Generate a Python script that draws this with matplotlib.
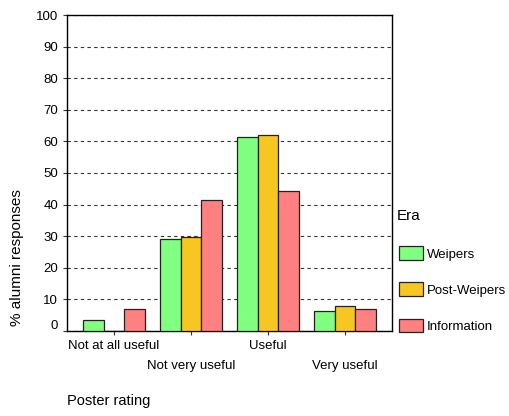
import matplotlib
matplotlib.use("Agg")
import matplotlib.pyplot as plt
import matplotlib.transforms as mtransforms
import numpy as np

plt.rcParams["font.family"] = ["Liberation Sans", "DejaVu Sans"]

categories = ["Not at all useful", "Not very useful", "Useful", "Very useful"]
series = ["Weipers", "Post-Weipers", "Information"]
weipers = [3.4, 29.0, 61.3, 6.3]
post_weipers = [0.0, 29.8, 61.9, 7.8]
information = [7.0, 41.3, 44.3, 7.0]
colors = ["#80ff80", "#f8c620", "#ff8080"]

fig = plt.figure(figsize=(5.09, 4.16), dpi=100)
ax = fig.add_axes([67 / 509, 1 - 331 / 416, 325 / 509, 316 / 416])

x = np.arange(len(categories))
width = 0.265
for i, (vals, name, col) in enumerate(zip([weipers, post_weipers, information], series, colors)):
    ax.bar(x + (i - 1) * width, vals, width, color=col, edgecolor="#222222",
           linewidth=0.9, label=name, zorder=3)

ax.set_xlim(-0.61, 3.61)
ax.set_ylim(0, 100)
ax.set_yticks(np.arange(0, 101, 10))
ax.yaxis.grid(True, linestyle=(0, (3, 3)), color="#333333", linewidth=0.8, zorder=0)
ax.tick_params(axis="both", labelsize=9.5, length=3, width=0.8, color="#333333")
ax.set_xticks(x)
ax.set_xticklabels(categories)
for k, tick in enumerate(ax.xaxis.get_major_ticks()):
    if k % 2 == 1:
        tick.set_pad(18)
# the zero label sits a little above the baseline in the original
zero_lbl = ax.get_yticklabels()[0]
zero_lbl.set_transform(zero_lbl.get_transform() +
                       mtransforms.ScaledTranslation(0, 5 / 72, fig.dpi_scale_trans))
for s in ax.spines.values():
    s.set_linewidth(1.0)

ax.set_ylabel("% alumni responses", fontsize=11)
ax.yaxis.set_label_coords(-0.132, 0.231)
fig.text(67 / 509, 1 - 405 / 416, "Poster rating", fontsize=10.5, ha="left", va="baseline")

fig.text(397 / 509, 1 - 215.5 / 416, "Era", fontsize=11, ha="left", va="center")
leg = ax.legend(loc="upper left", bbox_to_anchor=(396.5 / 509, 1 - 243.5 / 416),
                bbox_transform=fig.transFigure, frameon=False, fontsize=9.5,
                handlelength=1.8, handleheight=1.25, labelspacing=1.65,
                handletextpad=0.3, borderpad=0.2, borderaxespad=0)

fig.savefig("out.png", dpi=100)
